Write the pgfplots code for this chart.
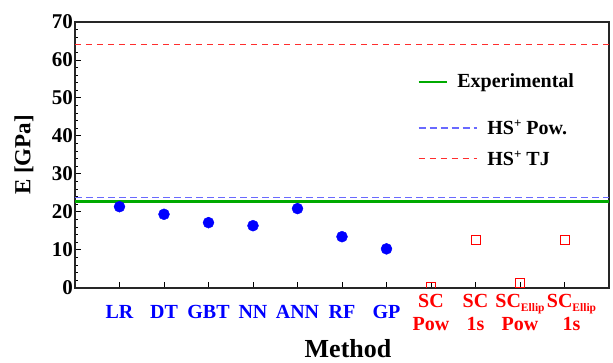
\documentclass[border=0pt]{standalone}
\usepackage{fontspec}
\setmainfont{Liberation Serif}
\usepackage{pgfplots}
\pgfplotsset{compat=1.18}
\definecolor{myblue}{RGB}{0,0,255}
\definecolor{myred}{RGB}{255,0,0}
\definecolor{expgreen}{RGB}{0,170,0}
\definecolor{hsblue}{RGB}{105,105,255}
\definecolor{hsred}{RGB}{255,45,45}
\pgfplotsset{
  shortleg/.style={legend image code/.code={\draw[##1] (0pt,0pt) -- (28pt,0pt); \path (0pt,-24pt) (0pt,8pt);}},
  longleg/.style={legend image code/.code={\draw[##1] (0pt,0pt) -- (58pt,0pt);}},
}
\newcommand{\mysub}[1]{\raisebox{-4pt}{\fontsize{11.5}{12}\selectfont #1}}
\newcommand{\mysup}{\raisebox{7pt}{\fontsize{13}{13}\selectfont +}}
\begin{document}
\begin{tikzpicture}
\useasboundingbox (-75pt,-75pt) rectangle (538pt,288pt);
\begin{axis}[
  scale only axis, width=534pt, height=266pt,
  xmin=0, xmax=12, ymin=0, ymax=70,
  xtick={1,...,11},
  xticklabels={
    {\color{myblue}LR},{\color{myblue}DT},{\color{myblue}GBT},{\color{myblue}NN},
    {\color{myblue}ANN},{\color{myblue}RF},{\color{myblue}GP},
    {\color{myred}SC}\\{\color{myred}Pow},
    {\color{myred}SC}\\{\color{myred}1s},
    {\color{myred}SC\mysub{Ellip}}\\{\color{myred}Pow},
    {\color{myred}\hspace*{14pt}SC\mysub{Ellip}}\\{\color{myred}\hspace*{14pt}1s}},
  ytick={0,10,...,70}, minor y tick num=4,
  tick align=inside, tick pos=left,
  major tick length=6pt, minor tick length=3.5pt,
  every tick/.style={black, line width=1pt},
  axis line style={line width=1.3pt, black!85},
  xticklabel style={font=\fontsize{20}{23}\selectfont\bfseries, align=center, anchor=center, yshift=-24pt, inner sep=0pt},
  yticklabel style={font=\fontsize{21}{23}\selectfont\bfseries, inner sep=2pt},
  /pgf/number format/assume math mode=true,
  xlabel={Method},
  xlabel style={font=\fontsize{26}{28}\selectfont\bfseries, at={(axis description cs:0.5,0)}, anchor=center, yshift=-61pt, xshift=6pt, inner sep=0pt},
  ylabel={E [GPa]},
  ylabel style={font=\fontsize{23}{25}\selectfont\bfseries, at={(axis description cs:0,0.5)}, anchor=center, yshift=51pt},
  legend style={at={(0.635,0.82)}, anchor=north west, draw=none, fill=none,
    font=\fontsize{20}{22}\selectfont\bfseries, row sep=11pt,
    /tikz/every odd column/.append style={column sep=8pt}},
  legend cell align=left,
  clip marker paths=true,
]
\addplot[expgreen, line width=2.5pt, shortleg]
  coordinates {(0,22.7) (12,22.7)};
\addlegendentry{\hspace*{-30pt}Experimental}
\addplot[hsblue, line width=1.7pt, dash pattern=on 7pt off 4pt, longleg]
  coordinates {(0,23.8) (12,23.8)};
\addlegendentry{HS\mysup{} Pow.}
\addplot[hsred, line width=1.4pt, dash pattern=on 6pt off 5pt, longleg]
  coordinates {(0,64.1) (12,64.1)};
\addlegendentry{HS\mysup{} TJ}
\addplot[only marks, mark=*, mark size=5.5pt, myblue, forget plot]
  coordinates {(1,21.4) (2,19.4) (3,17.2) (4,16.4) (5,20.9) (6,13.5) (7,10.3)};
\addplot[only marks, mark=square, mark size=4.5pt, myred, line width=1pt, forget plot]
  coordinates {(8,0.2) (9,12.5) (10,1.2) (11,12.5)};
\end{axis}
\end{tikzpicture}
\end{document}
